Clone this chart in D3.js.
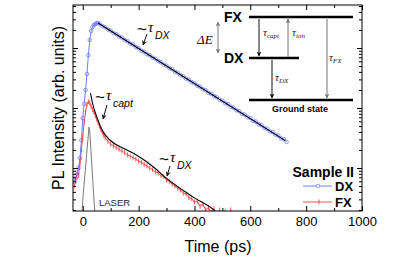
<!DOCTYPE html>
<html>
<head>
<meta charset="utf-8">
<script src="https://cdn.jsdelivr.net/npm/d3@7"></script>
<style>
  body { margin: 0; background: #fff; }
  svg { display: block; font-family: "Liberation Sans", Arial, sans-serif; }
</style>
</head>
<body>
<svg id="chart" width="415" height="260"></svg>
<script>
// DX (blue) transient, time in ps, intensity in arb. units
const dxTimes = [-30, -25, -20, -15, -10, -5, 0, 5, 10, 15, 20, 25, 30, 35, 40, 45, 50, 55,
  60, 70, 80, 90, 100, 110, 120, 130, 140, 150, 160, 170, 180, 190, 200, 210, 220, 230, 240, 250,
  260, 270, 280, 290, 300, 310, 320, 330, 340, 350, 360, 370, 380, 390, 400, 410, 420, 430, 440, 450,
  460, 470, 480, 490, 500, 510, 520, 530, 540, 550, 560, 570, 580, 590, 600, 610, 620, 630, 640, 650,
  660, 670, 680, 690, 700, 710, 720, 730];
const dxValues = [0.58, 0.68, 0.79, 1.0, 1.47, 2.9, 6.8, 11.7, 20, 36.9, 76, 136, 192, 224, 242, 251, 261, 261,
  254, 232, 222, 203, 194, 177, 170, 155, 149, 135, 130, 118, 114, 103, 99, 90.5, 86.5, 79, 75.5, 69,
  66.2, 60.5, 57.9, 52.8, 50.6, 46.1, 44.3, 40.3, 38.7, 35.2, 33.9, 30.8, 29.6, 27.0, 25.8, 23.5, 22.6, 20.6, 19.8, 17.9,
  17.3, 15.8, 15.1, 13.8, 13.2, 12.0, 11.6, 10.5, 10.1, 9.2, 8.85, 8.0, 7.75, 7.0, 6.78, 6.12, 5.92, 5.35, 5.18, 4.68,
  4.52, 4.08, 3.96, 3.58, 3.46, 3.12, 3.03, 2.72];

// FX (red) transient
const fxTimes = [-30, -25, -20, -15, -10, -5, 0, 5, 10, 15, 20, 25, 30, 35, 40, 45, 50, 55, 60, 65, 70, 75, 80,
  90, 100, 110, 120, 130, 140, 150, 160, 170, 180, 190, 200, 210, 220, 230, 240, 250, 260, 270, 280,
  290, 300, 310, 320, 330, 340, 350, 360, 370, 380, 390, 400, 410, 420, 430, 440, 450, 460, 470, 480,
  490, 500, 510, 520, 530, 540, 550, 560, 570];
const fxValues = [0.5, 0.62, 0.85, 0.75, 1.2, 2.0, 3.4, 5.8, 8.5, 11.5, 12.8, 12.2, 10.5, 9.4, 8.6, 7.4, 6.5, 5.7, 5.0, 4.3, 3.9, 3.5, 3.2,
  2.8, 2.5, 2.35, 2.2, 2.05, 1.92, 1.8, 1.66, 1.58, 1.48, 1.4, 1.3, 1.24, 1.15, 1.08, 1.0, 0.94, 0.86, 0.83,
  0.74, 0.72, 0.63, 0.6, 0.54, 0.5, 0.46, 0.43, 0.38, 0.37, 0.32, 0.31, 0.27, 0.28, 0.23, 0.25, 0.2, 0.22, 0.18,
  0.21, 0.16, 0.2, 0.15, 0.19, 0.14, 0.2, 0.13, 0.17, 0.12, 0.15];

// fits
const fitDxTimes = [55, 725];
const fitDxValues = [262, 2.86];
const fitFxTimes = [28, 35, 50, 73, 97, 145, 192, 252, 300, 394, 472, 480];
const fitFxValues = [17.6, 12, 7.2, 4.0, 2.93, 2.13, 1.65, 1.05, 0.67, 0.33, 0.195, 0.18];

// laser pulse
const laserTimes = [-6, -2, 2, 6, 10, 14, 18, 22, 25, 28, 32, 36, 40, 44, 48];
const laserValues = [0.14, 0.21, 0.38, 0.63, 1.04, 1.71, 2.8, 4.8, 4.2, 2.4, 1.2, 0.6, 0.3, 0.17, 0.1];

// ticks
const xMajor = [0, 200, 400, 600, 800, 1000];
const xMinor = [100, 300, 500, 700, 900];
const yMajor = [1, 10, 100];
const yMinor = [0.2, 0.3, 0.4, 0.5, 0.6, 0.7, 0.8, 0.9, 2, 3, 4, 5, 6, 7, 8, 9,
  20, 30, 40, 50, 60, 70, 80, 90, 200, 300, 400, 500];

const blue = '#6272ff';
const red = '#ff3b3b';

const svg = d3.select('#chart');
const L = 73, R = 362, T = 5, B = 211;

const x = d3.scaleLinear().domain([-35, 1000]).range([L, R]);
const y = d3.scaleLog().domain([0.192, 521]).range([B, T]);

const zip = (ts, vs) => ts.map((t, i) => ({ t, v: vs[i] }));
const dx = zip(dxTimes, dxValues);
const fx = zip(fxTimes, fxValues);
const fitDx = zip(fitDxTimes, fitDxValues);
const fitFx = zip(fitFxTimes, fitFxValues);
const laser = zip(laserTimes, laserValues);

const defs = svg.append('defs');
defs.append('clipPath').attr('id', 'plot')
  .append('rect').attr('x', L).attr('y', T).attr('width', R - L).attr('height', B - T);

function arrowHead(id, color) {
  defs.append('marker')
    .attr('id', id)
    .attr('viewBox', '0 0 10 10')
    .attr('markerWidth', 5)
    .attr('markerHeight', 5)
    .attr('refX', 9)
    .attr('refY', 5)
    .attr('orient', 'auto-start-reverse')
    .attr('markerUnits', 'userSpaceOnUse')
    .append('path')
    .attr('d', 'M0,0 L10,5 L0,10 L3,5 Z')
    .attr('fill', color);
}
arrowHead('ah-black', '#111');
arrowHead('ah-gray', '#777');

const line = d3.line().x((d) => x(d.t)).y((d) => y(Math.max(d.v, 0.12)));
const plot = svg.append('g').attr('clip-path', 'url(#plot)');

// laser
plot.append('path').attr('d', line(laser))
  .attr('fill', 'none').attr('stroke', '#7a7a7a').attr('stroke-width', 1);

// FX data
plot.append('path').attr('d', line(fx))
  .attr('fill', 'none').attr('stroke', red).attr('stroke-width', 0.9);
plot.append('g').selectAll('line').data(fx).join('line')
  .attr('x1', (d) => x(d.t)).attr('x2', (d) => x(d.t))
  .attr('y1', (d) => y(Math.max(d.v, 0.12)) - 2.5)
  .attr('y2', (d) => y(Math.max(d.v, 0.12)) + 2.5)
  .attr('stroke', red).attr('stroke-width', 0.8);

// DX data
plot.append('path').attr('d', line(dx))
  .attr('fill', 'none').attr('stroke', blue).attr('stroke-width', 0.9);
plot.append('g').selectAll('circle').data(dx).join('circle')
  .attr('cx', (d) => x(d.t)).attr('cy', (d) => y(d.v)).attr('r', 1.8)
  .attr('fill', 'none').attr('stroke', blue).attr('stroke-width', 0.7);

// fits
const fitLine = d3.line().x((d) => x(d.t)).y((d) => y(d.v)).curve(d3.curveMonotoneX);
plot.append('path').attr('d', fitLine(fitDx))
  .attr('fill', 'none').attr('stroke', '#000').attr('stroke-width', 1.1);
plot.append('path').attr('d', fitLine(fitFx))
  .attr('fill', 'none').attr('stroke', '#000').attr('stroke-width', 1.1);

// frame and ticks
svg.append('rect').attr('x', L).attr('y', T).attr('width', R - L).attr('height', B - T)
  .attr('fill', 'none').attr('stroke', '#000').attr('stroke-width', 1);

function ticks(axis, pos, values, size, labels) {
  const g = svg.append('g').attr('transform', pos)
    .call(axis.tickValues(values).tickSize(size).tickPadding(6)
      .tickFormat(labels ? d3.format('d') : () => ''));
  g.select('.domain').remove();
  g.selectAll('text').attr('font-size', 13).attr('fill', '#000')
    .attr('font-family', '"Liberation Sans", Arial, sans-serif');
  return g;
}
ticks(d3.axisBottom(x), `translate(0,${B})`, xMajor, -5, true);
ticks(d3.axisBottom(x), `translate(0,${B})`, xMinor, -3, false);
ticks(d3.axisTop(x), `translate(0,${T})`, xMajor, -5, false);
ticks(d3.axisTop(x), `translate(0,${T})`, xMinor, -3, false);
ticks(d3.axisLeft(y), `translate(${L},0)`, yMajor, -5, false);
ticks(d3.axisLeft(y), `translate(${L},0)`, yMinor, -3, false);
ticks(d3.axisRight(y), `translate(${R},0)`, yMajor, -5, false);
ticks(d3.axisRight(y), `translate(${R},0)`, yMinor, -3, false);

// axis titles
svg.append('text').attr('x', 218).attr('y', 252).attr('text-anchor', 'middle')
  .attr('font-size', 16).text('Time (ps)');
svg.append('text').attr('transform', 'translate(64,108) rotate(-90)').attr('text-anchor', 'middle')
  .attr('font-size', 16).text('PL Intensity (arb. units)');

// in-plot annotations
const serif = '"Liberation Serif", "Times New Roman", serif';
function tauLabel(xp, yp, sub, subSize) {
  const g = svg.append('g');
  g.append('text').attr('x', xp - 2).attr('y', yp + 3).attr('font-size', 17).text('~');
  g.append('text').attr('x', xp + 9).attr('y', yp).attr('font-size', 15)
    .attr('font-family', serif).attr('font-style', 'italic').text('τ');
  g.append('text').attr('x', xp + 16).attr('y', yp + 7).attr('font-size', subSize)
    .attr('font-style', 'italic').text(sub);
}
tauLabel(139, 32, 'DX', 10.5);
tauLabel(97, 100, 'capt', 10.5);
tauLabel(161, 162, 'DX', 10.5);

function arrow(x1, y1, x2, y2, color, both) {
  const p = svg.append('line').attr('x1', x1).attr('y1', y1).attr('x2', x2).attr('y2', y2)
    .attr('stroke', color === 'gray' ? '#777' : '#111').attr('stroke-width', 1)
    .attr('marker-end', `url(#ah-${color})`);
  if (both) p.attr('marker-start', `url(#ah-${color})`);
}
arrow(147, 34, 143, 45, 'black');
arrow(107, 105, 103, 119, 'black');
arrow(170, 166, 167, 176, 'black');

svg.append('text').attr('x', 99).attr('y', 206).attr('font-size', 9.5).attr('fill', '#222').text('LASER');

// energy level inset
const levels = svg.append('g');
levels.append('line').attr('x1', 249).attr('x2', 353).attr('y1', 17).attr('y2', 17)
  .attr('stroke', '#000').attr('stroke-width', 2.5);
levels.append('line').attr('x1', 249).attr('x2', 299).attr('y1', 58).attr('y2', 58)
  .attr('stroke', '#000').attr('stroke-width', 2.5);
levels.append('line').attr('x1', 249).attr('x2', 353).attr('y1', 100).attr('y2', 100)
  .attr('stroke', '#000').attr('stroke-width', 2.5);
levels.append('text').attr('x', 224).attr('y', 22).attr('font-size', 14).attr('font-weight', 'bold').text('FX');
levels.append('text').attr('x', 224).attr('y', 63).attr('font-size', 14).attr('font-weight', 'bold').text('DX');
levels.append('text').attr('x', 300).attr('y', 112).attr('text-anchor', 'middle')
  .attr('font-size', 9).attr('font-weight', 'bold').text('Ground state');

arrow(218, 22, 218, 53, 'gray', true);
levels.append('text').attr('x', 197).attr('y', 44).attr('font-size', 13)
  .attr('font-family', serif).attr('font-style', 'italic').text('ΔE');

arrow(259, 19, 259, 56, 'black');
arrow(288, 57, 288, 19, 'gray');
arrow(272, 60, 272, 98, 'black');
arrow(327, 19, 327, 98, 'gray');

function insetTau(xp, yp, sub) {
  const t = levels.append('text').attr('x', xp).attr('y', yp)
    .attr('font-family', serif).attr('font-style', 'italic').attr('fill', '#222');
  t.append('tspan').attr('font-size', 11).text('τ');
  t.append('tspan').attr('font-size', 7).attr('dy', 2).text(sub);
}
insetTau(263, 36, 'capt');
insetTau(292, 36, 'ion');
insetTau(275, 81, 'DX');
insetTau(329, 61, 'FX');

// legend
const leg = svg.append('g');
leg.append('text').attr('x', 354).attr('y', 177).attr('text-anchor', 'end')
  .attr('font-size', 14).attr('font-weight', 'bold').text('Sample II');
leg.append('line').attr('x1', 303).attr('x2', 332).attr('y1', 186).attr('y2', 186)
  .attr('stroke', blue).attr('stroke-width', 0.9);
leg.append('circle').attr('cx', 318).attr('cy', 186).attr('r', 1.8)
  .attr('fill', '#fff').attr('stroke', blue).attr('stroke-width', 0.7);
leg.append('text').attr('x', 335).attr('y', 191).attr('font-size', 13).attr('font-weight', 'bold').text('DX');
leg.append('line').attr('x1', 303).attr('x2', 332).attr('y1', 202).attr('y2', 202)
  .attr('stroke', red).attr('stroke-width', 0.9);
leg.append('line').attr('x1', 319).attr('x2', 319).attr('y1', 199.5).attr('y2', 204.5)
  .attr('stroke', red).attr('stroke-width', 0.8);
leg.append('text').attr('x', 335).attr('y', 207).attr('font-size', 13).attr('font-weight', 'bold').text('FX');
</script>
</body>
</html>
